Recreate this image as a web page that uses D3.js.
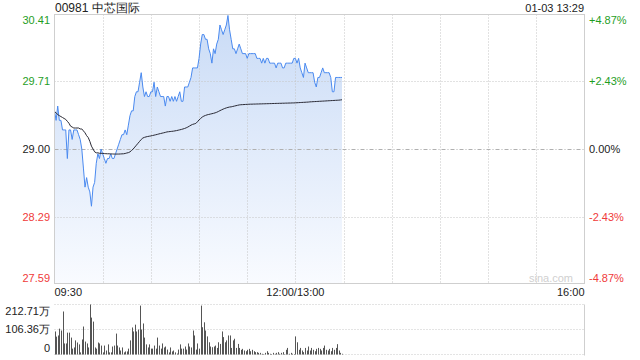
<!DOCTYPE html>
<html>
<head>
<meta charset="utf-8">
<style>
  body { margin: 0; background: #fff; }
  svg { display: block; font-family: "Liberation Sans", Arial, sans-serif; }
</style>
</head>
<body>
<svg width="640" height="360"></svg>

<script src="https://cdn.jsdelivr.net/npm/d3@7"></script>
<script>
// header
let title = "00981 中芯国际"
let stamp = "01-03 13:29"

// axis ticks
let priceTicks = [27.59, 28.29, 29.00, 29.71, 30.41]
let pctTicks = ["-4.87%", "-2.43%", "0.00%", "+2.43%", "+4.87%"]
let timeLabels = ["09:30", "12:00/13:00", "16:00"]
let timeLabelMinutes = [0, 150, 330]
let volTicks = [0, 106.36, 212.71]
let volTickLabels = ["0", "106.36万", "212.71万"]

// one value per minute, 09:30 -> 13:29 (index 150 = 13:00)
let price = [
  29.40, 29.30, 29.45, 29.30, 29.30, 29.20, 29.20, 29.20, 28.90, 29.20,
  29.20, 29.10, 29.20, 29.20, 29.20, 29.15, 29.10, 29.00, 28.80, 28.60,
  28.70, 28.60, 28.55, 28.40, 28.60, 28.65, 28.85, 28.95, 28.90, 29.00,
  28.95, 28.90, 28.85, 28.90, 28.90, 28.95, 28.90, 28.90, 28.95, 29.00,
  29.05, 29.10, 29.15, 29.15, 29.20, 29.15, 29.25, 29.35, 29.40, 29.40,
  29.55, 29.60, 29.60, 29.70, 29.80, 29.65, 29.55, 29.60, 29.55, 29.55,
  29.60, 29.60, 29.70, 29.55, 29.65, 29.60, 29.55, 29.55, 29.55, 29.45,
  29.55, 29.55, 29.50, 29.55, 29.50, 29.55, 29.50, 29.55, 29.60, 29.50,
  29.50, 29.65, 29.65, 29.65, 29.70, 29.75, 29.85, 29.85, 29.85, 29.85,
  29.95, 30.10, 30.20, 30.20, 30.15, 30.15, 30.05, 30.00, 29.90, 30.05,
  30.00, 30.10, 30.15, 30.30, 30.25, 30.20, 30.25, 30.30, 30.40, 30.25,
  30.15, 30.05, 30.05, 30.00, 30.05, 30.10, 30.05, 30.00, 30.00, 30.00,
  29.95, 30.00, 30.00, 30.00, 30.00, 30.00, 29.95, 29.95, 29.95, 29.90,
  29.95, 29.90, 29.95, 29.95, 29.90, 29.90, 29.90, 29.90, 29.85, 29.90,
  29.90, 29.90, 29.85, 29.85, 29.90, 29.90, 29.90, 29.90, 29.90, 29.95,
  29.95, 29.90, 29.95, 29.85, 29.80, 29.75, 29.90, 29.85, 29.80, 29.80,
  29.80, 29.80, 29.70, 29.65, 29.75, 29.75, 29.80, 29.85, 29.80, 29.80,
  29.80, 29.80, 29.75, 29.60, 29.60, 29.75, 29.75, 29.75, 29.75, 29.75
]

let avgPrice = [
  29.390, 29.380, 29.360, 29.350, 29.340, 29.330, 29.320, 29.310, 29.290, 29.270,
  29.240, 29.230, 29.220, 29.220, 29.220, 29.220, 29.210, 29.210, 29.190, 29.170,
  29.140, 29.120, 29.080, 29.030, 29.000, 28.970, 28.960, 28.960, 28.955, 28.955,
  28.953, 28.952, 28.951, 28.950, 28.950, 28.948, 28.948, 28.947, 28.947, 28.947,
  28.947, 28.948, 28.949, 28.950, 28.953, 28.958, 28.962, 28.970, 28.985, 29.000,
  29.020, 29.040, 29.060, 29.080, 29.100, 29.115, 29.122, 29.127, 29.131, 29.134,
  29.137, 29.141, 29.145, 29.149, 29.153, 29.158, 29.162, 29.166, 29.170, 29.174,
  29.179, 29.181, 29.183, 29.185, 29.187, 29.190, 29.193, 29.197, 29.201, 29.205,
  29.210, 29.215, 29.222, 29.230, 29.240, 29.250, 29.258, 29.263, 29.268, 29.285,
  29.305, 29.320, 29.335, 29.345, 29.352, 29.358, 29.362, 29.366, 29.370, 29.374,
  29.379, 29.385, 29.393, 29.402, 29.410, 29.418, 29.425, 29.431, 29.436, 29.440,
  29.442, 29.446, 29.450, 29.454, 29.458, 29.462, 29.464, 29.465, 29.466, 29.467,
  29.468, 29.469, 29.470, 29.470, 29.471, 29.471, 29.472, 29.472, 29.473, 29.473,
  29.474, 29.474, 29.475, 29.475, 29.476, 29.476, 29.477, 29.477, 29.478, 29.478,
  29.479, 29.479, 29.480, 29.480, 29.481, 29.481, 29.482, 29.482, 29.483, 29.483,
  29.484, 29.485, 29.486, 29.487, 29.488, 29.489, 29.490, 29.491, 29.492, 29.494,
  29.495, 29.496, 29.497, 29.498, 29.499, 29.500, 29.501, 29.502, 29.503, 29.504,
  29.505, 29.506, 29.507, 29.508, 29.509, 29.510, 29.511, 29.512, 29.514, 29.516
]

// 万股
let volume = [
  98, 76, 81, 110, 102, 183, 47, 47, 93, 93,
  72, 25, 30, 60, 51, 43, 9, 64, 119, 55,
  47, 30, 212.71, 157, 140, 30, 25, 51, 47, 38,
  9, 38, 17, 43, 9, 9, 34, 38, 89, 38,
  30, 17, 30, 9, 13, 13, 25, 60, 115, 98,
  127, 98, 106, 208, 106, 132, 72, 43, 30, 43,
  25, 25, 38, 25, 72, 38, 25, 47, 30, 34,
  21, 9, 30, 13, 17, 9, 4, 21, 43, 25,
  25, 34, 21, 47, 34, 30, 102, 81, 21, 47,
  25, 208, 116, 137, 102, 77, 52, 34, 31, 34,
  38, 28, 52, 45, 98, 74, 52, 60, 81, 81,
  28, 60, 67, 28, 45, 28, 20, 24, 17, 14,
  20, 24, 14, 20, 14, 10, 10, 7, 7, 3,
  2, 7, 14, 7, 3, 2, 7, 3, 7, 10,
  3, 7, 10, 2, 20, 28, 3, 7, 3, 2,
  77, 52, 20, 28, 17, 10, 28, 17, 34, 17,
  28, 20, 14, 24, 28, 24, 17, 28, 38, 20,
  17, 24, 14, 28, 20, 28, 44, 17, 7, 3
]

let svg = d3.select("svg")

let left = 54.5, right = 584.5
let green = "#1f9e1f", red = "#f03a3a", ink = "#222"

let x = d3.scaleLinear().domain([0, 330]).range([left, right])
let y = d3.scaleLinear().domain([priceTicks[0], priceTicks[4]]).range([283.5, 14.5])
let yv = d3.scaleLinear().domain([0, volTicks[2]]).range([354.5, 304.5])

let tickColor = (i) => i < 2 ? red : (i == 2 ? ink : green)

// gradient under the price line
let grad = svg.append("defs").append("linearGradient")
  .attr("id", "priceFill")
  .attr("gradientUnits", "userSpaceOnUse")
  .attr("x1", 0).attr("x2", 0)
  .attr("y1", y.range()[1]).attr("y2", y.range()[0])
grad.append("stop").attr("offset", "0%").attr("stop-color", "#c9dbf6")
grad.append("stop").attr("offset", "100%").attr("stop-color", "#f9fbff")

// price area first, grid shows through on top of it
svg.append("path")
  .datum(price)
  .attr("d", d3.area().x((d, i) => x(i)).y0(y.range()[0]).y1(d => y(d)))
  .attr("fill", "url(#priceFill)")

// grid
let grid = svg.append("g")
grid.selectAll(".vgrid")
  .data(d3.range(30, 330, 30))
  .join("line")
  .attr("x1", d => Math.round(x(d)) + 0.5).attr("x2", d => Math.round(x(d)) + 0.5)
  .attr("y1", y.range()[1]).attr("y2", y.range()[0])
  .attr("stroke", "#c4c4c4")
  .attr("stroke-dasharray", "1,2")

grid.selectAll(".hgrid")
  .data([priceTicks[1], priceTicks[3]])
  .join("line")
  .attr("x1", left).attr("x2", right)
  .attr("y1", d => Math.round(y(d)) + 0.5).attr("y2", d => Math.round(y(d)) + 0.5)
  .attr("stroke", "#c4c4c4")
  .attr("stroke-dasharray", "1,2")

grid.append("line")
  .attr("x1", left).attr("x2", right)
  .attr("y1", Math.round(y(priceTicks[2])) + 0.5).attr("y2", Math.round(y(priceTicks[2])) + 0.5)
  .attr("stroke", "#b0b0b0")
  .attr("stroke-dasharray", "4,2,1,2")

// watermark
svg.append("text")
  .attr("x", 573).attr("y", 282)
  .attr("text-anchor", "end")
  .attr("font-size", 11)
  .attr("fill", "#d0d0d0")
  .text("sina.com")

// price + average lines
svg.append("path")
  .datum(price)
  .attr("d", d3.line().x((d, i) => x(i)).y(d => y(d)))
  .attr("fill", "none")
  .attr("stroke", "#4a8af0")
  .attr("stroke-width", 1)

svg.append("path")
  .datum(avgPrice)
  .attr("d", d3.line().x((d, i) => x(i)).y(d => y(d)))
  .attr("fill", "none")
  .attr("stroke", "#2a2a35")
  .attr("stroke-width", 1)

// frame of price panel
svg.append("rect")
  .attr("x", left).attr("y", y.range()[1])
  .attr("width", right - left).attr("height", y.range()[0] - y.range()[1])
  .attr("fill", "none")
  .attr("stroke", "#cfcfcf")

// price labels left, percent labels right
svg.append("g").selectAll("text")
  .data(priceTicks)
  .join("text")
  .attr("x", 50)
  .attr("y", d => Math.min(Math.max(y(d), 20), 278))
  .attr("dy", "0.35em")
  .attr("text-anchor", "end")
  .attr("font-size", 11)
  .attr("fill", (d, i) => tickColor(i))
  .text(d => d.toFixed(2))

svg.append("g").selectAll("text")
  .data(pctTicks)
  .join("text")
  .attr("x", 589)
  .attr("y", (d, i) => Math.min(Math.max(y(priceTicks[i]), 20), 278))
  .attr("dy", "0.35em")
  .attr("font-size", 11)
  .attr("fill", (d, i) => tickColor(i))
  .text(d => d)

// header
svg.append("text")
  .attr("x", 55).attr("y", 12)
  .attr("font-size", 12)
  .attr("fill", ink)
  .text(title)

svg.append("text")
  .attr("x", 584).attr("y", 12)
  .attr("text-anchor", "end")
  .attr("font-size", 11)
  .attr("fill", ink)
  .text(stamp)

// time labels
svg.append("g").selectAll("text")
  .data(timeLabels)
  .join("text")
  .attr("x", (d, i) => x(timeLabelMinutes[i]))
  .attr("y", 296)
  .attr("text-anchor", (d, i) => i == 0 ? "start" : (i == timeLabels.length - 1 ? "end" : "middle"))
  .attr("font-size", 11)
  .attr("fill", ink)
  .text(d => d)

// volume panel
let vol = svg.append("g")
vol.selectAll("line")
  .data(volTicks)
  .join("line")
  .attr("x1", left).attr("x2", right)
  .attr("y1", d => yv(d)).attr("y2", d => yv(d))
  .attr("stroke", "#c8c8c8")
  .attr("stroke-dasharray", "1,2")

vol.append("line")
  .attr("x1", right).attr("x2", right)
  .attr("y1", yv.range()[1]).attr("y2", yv.range()[0] + 1)
  .attr("stroke", "#cfcfcf")

vol.selectAll("rect")
  .data(volume)
  .join("rect")
  .attr("x", (d, i) => Math.round(x(i)))
  .attr("width", 1)
  .attr("y", d => yv(d))
  .attr("height", d => yv(0) - yv(d))
  .attr("fill", "#555")

vol.selectAll("text")
  .data(volTickLabels)
  .join("text")
  .attr("x", 50)
  .attr("y", (d, i) => Math.min(Math.max(yv(volTicks[i]), 311), 348))
  .attr("dy", "0.35em")
  .attr("text-anchor", "end")
  .attr("font-size", 11)
  .attr("fill", ink)
  .text(d => d)
</script>
</body>
</html>
